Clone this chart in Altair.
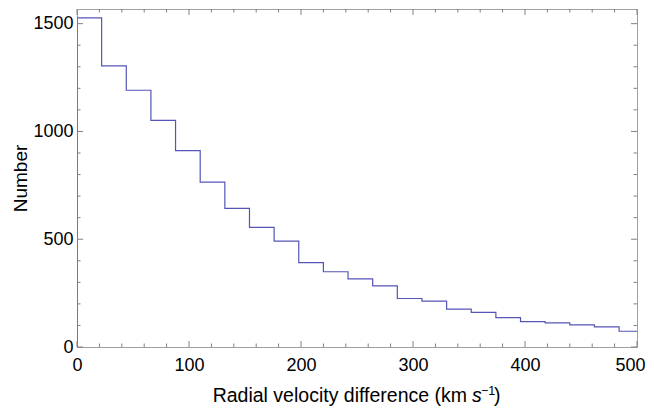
import altair as alt
import pandas as pd

# Histogram bins (left edges, width 22 km/s) and counts
bin_left = [0, 22, 44, 66, 88, 110, 132, 154, 176, 198, 220, 242, 264, 286,
            308, 330, 352, 374, 396, 418, 440, 462, 484]
bin_right_last = 506
counts = [1527, 1304, 1191, 1051, 911, 765, 643, 555, 491, 391, 349, 316, 284,
          225, 213, 176, 161, 136, 118, 112, 103, 93, 73]

x_major = [0, 100, 200, 300, 400, 500]
x_minor = [20, 40, 60, 80, 120, 140, 160, 180, 220, 240, 260, 280,
           320, 340, 360, 380, 420, 440, 460, 480]
y_major = [0, 500, 1000, 1500]
y_minor = [100, 200, 300, 400, 600, 700, 800, 900, 1100, 1200, 1300, 1400]

title_parts = ["Radial velocity difference (km", "s", "\u22121", ")"]
y_title = "Number"

FONT = "Liberation Sans"
LINE = "#5555b8"
FRAME = "#a0a0a0"
W, H = 560, 338

xs = [0] + bin_left + [bin_right_last]
ys = [0] + counts + [counts[-1]]
line_df = pd.DataFrame({"x": xs, "y": ys, "i": list(range(len(xs)))})

xscale = alt.Scale(domain=[0, 500], nice=False, zero=False)
yscale = alt.Scale(domain=[0, 1568], nice=False, zero=False)

xaxis = alt.Axis(
    values=x_major, format="d", title=None, grid=False, ticks=False, domain=False,
    labelFontSize=18, labelFont=FONT, labelColor="black", labelPadding=9,
    labelFlush=False, labelOverlap=False,
    labelOffset={"condition": {"test": "datum.value == 500", "value": -7}, "value": 0})
yaxis = alt.Axis(
    values=y_major, format="d", title=y_title, titleFont=FONT, titleFontSize=19,
    titleFontWeight="normal", titleColor="black", titlePadding=2,
    grid=False, ticks=False, domain=False,
    labelFontSize=18, labelFont=FONT, labelColor="black", labelPadding=4,
    labelOverlap=False)

line = alt.Chart(line_df).mark_line(
    interpolate="step-after", color=LINE, strokeWidth=1.2, clip=True
).encode(
    x=alt.X("x:Q", scale=xscale, axis=xaxis),
    y=alt.Y("y:Q", scale=yscale, axis=yaxis),
    order="i:Q",
)

def xticks(vals, length, top):
    df = pd.DataFrame({"v": vals})
    if top:
        yv, y2v = 0, length
    else:
        yv, y2v = H, H - length
    return alt.Chart(df).mark_rule(color="#808080", strokeWidth=1).encode(
        x=alt.X("v:Q", scale=xscale, axis=xaxis),
        y=alt.value(yv), y2=alt.value(y2v))

def yticks(vals, length, right):
    df = pd.DataFrame({"v": vals})
    if right:
        xv, x2v = W, W - length
    else:
        xv, x2v = 0, length
    return alt.Chart(df).mark_rule(color="#808080", strokeWidth=1).encode(
        y=alt.Y("v:Q", scale=yscale, axis=yaxis),
        x=alt.value(xv), x2=alt.value(x2v))

ticks = [
    xticks(x_major, 6, False), xticks(x_minor, 3.5, False),
    xticks(x_major, 6, True), xticks(x_minor, 3.5, True),
    yticks(y_major, 6, False), yticks(y_minor, 3.5, False),
    yticks(y_major, 6, True), yticks(y_minor, 3.5, True),
]

one = pd.DataFrame({"a": [0]})
t1 = alt.Chart(one).mark_text(text=title_parts[0], font=FONT, fontSize=19.5,
                              align="right", baseline="alphabetic", color="black"
                              ).encode(x=alt.value(390), y=alt.value(393))
t2 = alt.Chart(one).mark_text(text=title_parts[1], font=FONT, fontSize=19.5,
                              fontStyle="italic", align="left", baseline="alphabetic",
                              color="black").encode(x=alt.value(395), y=alt.value(393))
t3 = alt.Chart(one).mark_text(text=title_parts[2], font=FONT, fontSize=12.5,
                              align="left", baseline="alphabetic", color="black"
                              ).encode(x=alt.value(404), y=alt.value(386))
t4 = alt.Chart(one).mark_text(text=title_parts[3], font=FONT, fontSize=19.5,
                              align="left", baseline="alphabetic", color="black"
                              ).encode(x=alt.value(417), y=alt.value(393))

chart = alt.layer(line, *ticks, t1, t2, t3, t4).properties(
    width=W, height=H,
    autosize=alt.AutoSizeParams(type="none"),
    padding={"left": 69, "top": 1, "right": 9, "bottom": 60},
).configure_view(stroke=FRAME, strokeWidth=1)

chart.save("out.html", embed_options={"renderer": "svg", "actions": False})
